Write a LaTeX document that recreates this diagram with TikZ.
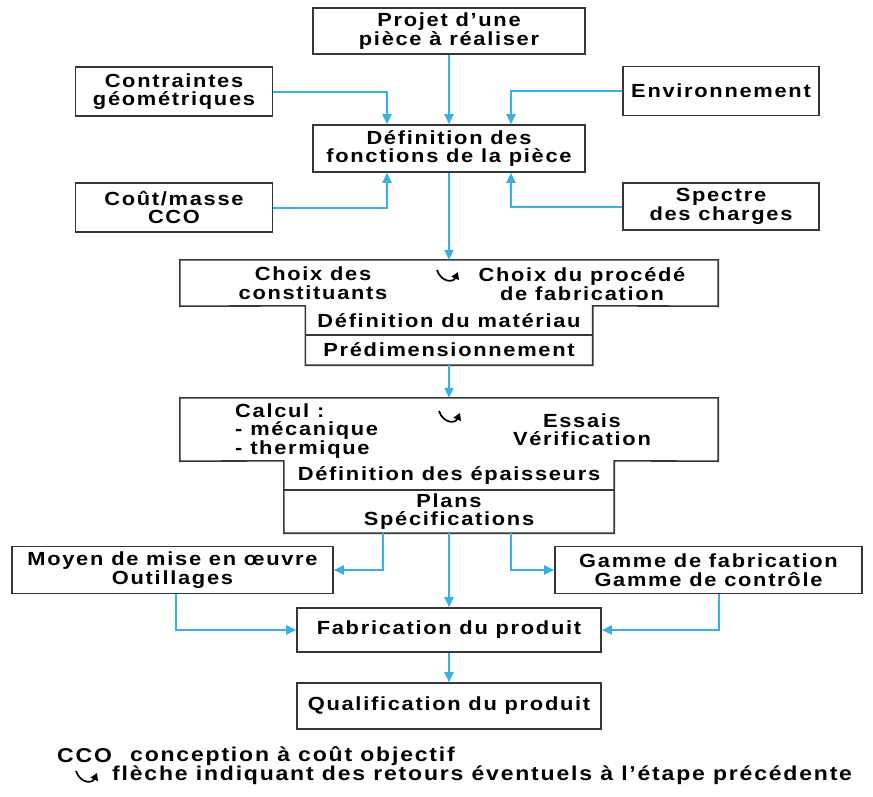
\documentclass[tikz,border=0pt]{standalone}
\usepackage{fontspec}
\setmainfont{Liberation Sans}[FakeStretch=1.15, LetterSpace=9]
\usetikzlibrary{arrows.meta}
\definecolor{boxgray}{RGB}{55,55,55}
\definecolor{flowblue}{RGB}{56,176,228}
\begin{document}
\begin{tikzpicture}[x=1pt, y=-1pt,
  lbl/.style={inner sep=0pt, align=center, font=\fontsize{19}{18.5}\selectfont\bfseries},
  box/.style={lbl, draw=boxgray, line width=1.6pt, fill=white},
  part/.style={lbl},
  boxline/.style={draw=boxgray, line width=1.6pt},
  flow/.style={draw=flowblue, line width=2pt, -{Triangle[length=10pt,width=9pt]}},
  legend/.style={inner sep=0pt, anchor=west, font=\fontsize{20}{20}\selectfont\bfseries},
  retourline/.style={line width=1.7pt, -{Triangle[length=7pt,width=8pt]}}
]
\useasboundingbox (0,0) rectangle (873,796);

% upper part: project, constraints and functions
\node[box, minimum width=272, minimum height=46] (projet) at (449,31) {Projet d'une\\pièce à réaliser};
\node[box, minimum width=197, minimum height=49] (contr) at (174,91.5) {Contraintes\\géométriques};
\node[box, minimum width=196, minimum height=49] (env) at (721,91) {Environnement};
\node[box, minimum width=272, minimum height=47] (fonc) at (449,148.5) {Définition des\\fonctions de la pièce};
\node[box, minimum width=197, minimum height=49] (cout) at (174,207.5) {Coût/masse\\CCO};
\node[box, minimum width=196, minimum height=47] (spectre) at (721,206.5) {Spectre\\des charges};

\draw[flow] (projet.south) -- (fonc.north);
\draw[flow] (contr.east) -| ([xshift=-62pt]fonc.north);
\draw[flow] (env.west) -| ([xshift=62pt]fonc.north);
\draw[flow] (cout.east) -| ([xshift=-62pt]fonc.south);
\draw[flow] (spectre.west) -| ([xshift=62pt]fonc.south);

% material choice block
\node[part, minimum width=538, minimum height=46] (choix) at (449,283) {};
\node[part, minimum width=287, minimum height=29] (mat) at (449,320.5) {Définition du matériau};
\node[part, minimum width=287, minimum height=30] (predim) at (449,350) {Prédimensionnement};
\draw[boxline] (choix.south west) -- (choix.north west) -- (choix.north east) -- (choix.south east)
  -- (mat.north east) -- (predim.south east) -- (predim.south west) -- (mat.north west) -- cycle;
\draw[boxline] (mat.south west) -- (mat.south east);
\node[lbl] (constit) at (313,283) {Choix des\\constituants};
\node[lbl] (procede) at (582,284) {Choix du procédé\\de fabrication};
% return arrow (smile with upward tip)
\draw[retourline, shift={(451,274)}] (-14,-4) .. controls (-10,8) and (2,9) .. (7,-2);

\draw[flow] (fonc.south) -- (choix.north);

% calculation block
\node[part, minimum width=538, minimum height=63] (calc) at (449,429.5) {};
\node[part, minimum width=330, minimum height=29] (ep) at (449,475.5) {Définition des épaisseurs};
\node[part, minimum width=330, minimum height=43] (plans) at (449,511.5) {Plans\\Spécifications};
\draw[boxline] (calc.south west) -- (calc.north west) -- (calc.north east) -- (calc.south east)
  -- (ep.north east) -- (plans.south east) -- (plans.south west) -- (ep.north west) -- cycle;
\draw[boxline] (ep.south west) -- (ep.south east);
\node[lbl, align=left, anchor=west] (calcul) at (235,431) {Calcul :\\- mécanique\\- thermique};
\node[lbl] (essais) at (582,429.5) {Essais\\Vérification};
\draw[retourline, shift={(453,415)}] (-14,-4) .. controls (-10,8) and (2,9) .. (7,-2);

\draw[flow] (predim.south) -- (calc.north);

% manufacturing
\node[box, minimum width=321, minimum height=47] (moyen) at (172.5,570) {Moyen de mise en œuvre\\Outillages};
\node[box, minimum width=307, minimum height=47] (gamme) at (708.5,570) {Gamme de fabrication\\Gamme de contrôle};
\node[box, minimum width=304, minimum height=44] (fab) at (449,630) {Fabrication du produit};
\node[box, minimum width=304, minimum height=46] (qual) at (449,706) {Qualification du produit};

\draw[flow] ([xshift=-66pt]plans.south) |- (moyen.east);
\draw[flow] ([xshift=62pt]plans.south) |- (gamme.west);
\draw[flow] (plans.south) -- (fab.north);
\draw[flow] ([xshift=3pt]moyen.south) |- (fab.west);
\draw[flow] ([xshift=10pt]gamme.south) |- (fab.east);
\draw[flow] (fab.south) -- (qual.north);

% legend
\node[legend] (lcco) at (57,756) {CCO};
\node[legend] (lccotxt) at (130,756) {conception à coût objectif};
\draw[retourline, shift={(90,775)}] (-14,-4) .. controls (-10,8) and (2,9) .. (7,-2);
\node[legend] (lret) at (112,775) {flèche indiquant des retours éventuels à l'étape précédente};
\end{tikzpicture}
\end{document}
